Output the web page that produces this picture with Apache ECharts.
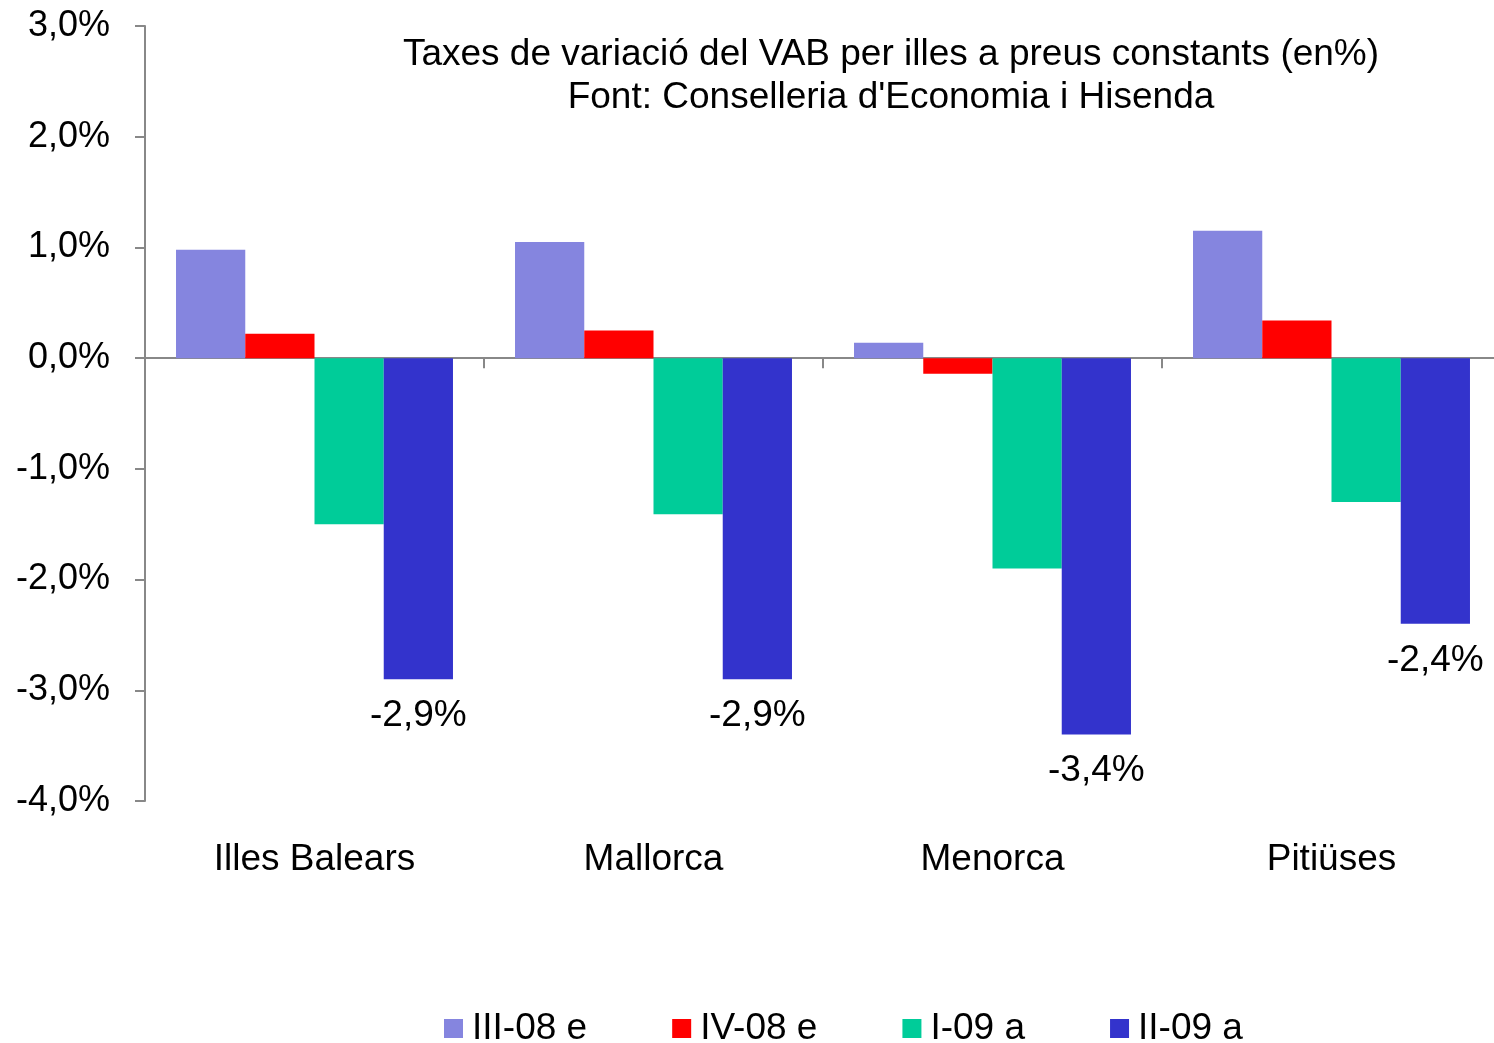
<!DOCTYPE html>
<html>
<head>
<meta charset="utf-8">
<script src="https://cdn.jsdelivr.net/npm/echarts@6/dist/echarts.min.js"></script>
<style>
html,body{margin:0;padding:0;background:#fff;}
#chart{width:1494px;height:1043px;}
</style>
</head>
<body>
<div id="chart"></div>
<script>
const categories = ['Illes Balears', 'Mallorca', 'Menorca', 'Pitiüses'];
const seriesNames = ['III-08 e', 'IV-08 e', 'I-09 a', 'II-09 a'];
const valsIII08 = [0.98, 1.05, 0.14, 1.15];
const valsIV08 = [0.22, 0.25, -0.14, 0.34];
const valsI09 = [-1.5, -1.41, -1.9, -1.3];
const valsII09 = [-2.9, -2.9, -3.4, -2.4];
const colors = ['#8585DF', '#FF0000', '#00CC99', '#3333CC'];
const yTicks = { min: -4, max: 3, interval: 1 };
const titleLines = ['Taxes de variació del VAB per illes a preus constants (en%)', "Font: Conselleria d'Economia i Hisenda"];

const FONT = '"Liberation Sans", Arial, sans-serif';
const FS = 37;
const fmt = v => v.toFixed(1).replace('.', ',') + '%';

const chart = echarts.init(document.getElementById('chart'));
const dataSets = [valsIII08, valsIV08, valsI09, valsII09];
const series = dataSets.map((d, i) => ({
  name: seriesNames[i],
  type: 'bar',
  data: d,
  xAxisIndex: 0,
  itemStyle: { color: colors[i] },
  barGap: '0%',
  barCategoryGap: '18.3%',
  label: i === 3 ? {
    show: true, position: 'bottom', distance: 18,
    formatter: p => fmt(p.value),
    fontSize: FS, color: '#000', fontFamily: FONT
  } : { show: false }
}));

chart.setOption({
  backgroundColor: '#fff',
  animation: false,
  textStyle: { fontFamily: FONT },
  title: {
    text: titleLines.join('\n'),
    left: 891, top: 33, textAlign: 'center', padding: 0,
    textStyle: { fontSize: FS, fontWeight: 'normal', color: '#000', lineHeight: 43, fontFamily: FONT }
  },
  legend: {
    data: seriesNames,
    left: 444, top: 1010, padding: 0,
    icon: 'rect', itemWidth: 19, itemHeight: 19, itemGap: 85,
    textStyle: { fontSize: FS, color: '#000', fontFamily: FONT, padding: [0, 0, 0, 4] }
  },
  grid: { left: 145, top: 26, width: 1356, height: 775, outerBoundsMode: 'none', containLabel: false },
  xAxis: [
    {
      type: 'category', data: categories, position: 'bottom',
      axisLine: { show: false, onZero: false }, axisTick: { show: false },
      axisLabel: { fontSize: FS, color: '#000', margin: 40, fontFamily: FONT }
    },
    {
      type: 'category', data: categories, position: 'bottom',
      axisLine: { show: true, onZero: true, onZeroAxisIndex: 0, lineStyle: { color: '#888', width: 2 } },
      axisTick: { show: true, length: 10, lineStyle: { color: '#888', width: 2 } },
      axisLabel: { show: false }
    }
  ],
  yAxis: {
    type: 'value', min: yTicks.min, max: yTicks.max, interval: yTicks.interval,
    axisLine: { show: true, lineStyle: { color: '#888', width: 2 } },
    axisTick: { show: true, length: 10, lineStyle: { color: '#888', width: 2 } },
    splitLine: { show: false },
    axisLabel: { fontSize: 36, color: '#000', margin: 35, formatter: v => fmt(v), fontFamily: FONT }
  },
  series: series
});
</script>
</body>
</html>
